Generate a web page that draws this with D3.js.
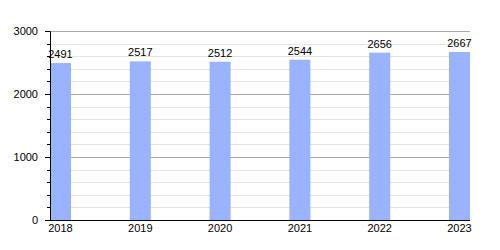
<!DOCTYPE html>
<html>
<head>
<meta charset="utf-8">
<script src="https://cdn.jsdelivr.net/npm/d3@7"></script>
<style>
  body { margin: 0; background: #fff; }
  text { font-family: "Liberation Sans", Arial, sans-serif; font-size: 11px; fill: #000; }
</style>
</head>
<body>
<div class="bar-chart"></div>
<script>
var years = ["2018", "2019", "2020", "2021", "2022", "2023"];
var values = [2491, 2517, 2512, 2544, 2656, 2667];
var yTicks = [0, 1000, 2000, 3000];

var W = 500, H = 250;
var margin = { top: 31, left: 50, right: 30, bottom: 30 };
var barWidth = 21;

var x = d3.scaleLinear()
      .domain([0, years.length - 1])
      .range([margin.left, W - margin.right - barWidth]);

var y = d3.scaleLinear()
      .domain([0, 3000])
      .range([H - margin.bottom, margin.top]);

var svg = d3.select(".bar-chart").append("svg")
      .attr("width", W)
      .attr("height", H);

// minor grid every 200
var minor = d3.range(200, 3000, 200).filter(function (v) { return v % 1000 !== 0; });
svg.selectAll(".minor")
    .data(minor)
    .enter().append("line")
    .attr("x1", margin.left).attr("x2", W - margin.right)
    .attr("y1", function (d) { return Math.round(y(d)) + 0.5; })
    .attr("y2", function (d) { return Math.round(y(d)) + 0.5; })
    .attr("stroke", "#e4e4e4");

svg.selectAll(".major")
    .data(yTicks.slice(1))
    .enter().append("line")
    .attr("x1", margin.left).attr("x2", W - margin.right)
    .attr("y1", function (d) { return Math.round(y(d)) + 0.5; })
    .attr("y2", function (d) { return Math.round(y(d)) + 0.5; })
    .attr("stroke", "#aaaaaa");

// bars
svg.selectAll(".bar")
    .data(values)
    .enter().append("rect")
    .attr("x", function (d, i) { return x(i); })
    .attr("y", function (d) { return y(d); })
    .attr("width", barWidth)
    .attr("height", function (d) { return y(0) - y(d); })
    .attr("fill", "#99b3ff");

svg.selectAll(".val")
    .data(values)
    .enter().append("text")
    .attr("x", function (d, i) { return x(i) + barWidth / 2; })
    .attr("y", function (d) { return y(d) - 5; })
    .attr("text-anchor", "middle")
    .text(function (d) { return d; });

// y axis
var yAxis = d3.axisLeft(y).tickValues(yTicks).tickSize(5).tickFormat(d3.format("d"));
var gy = svg.append("g")
    .attr("transform", "translate(" + margin.left + ",0)")
    .call(yAxis);
gy.select(".domain").attr("stroke", "#000");
gy.selectAll(".tick text").attr("x", -12).style("font-family", "Liberation Sans, Arial, sans-serif").style("font-size", "11px");

svg.selectAll(".ytick-minor")
    .data(minor)
    .enter().append("line")
    .attr("x1", margin.left - 3).attr("x2", margin.left)
    .attr("y1", function (d) { return Math.round(y(d)) + 0.5; })
    .attr("y2", function (d) { return Math.round(y(d)) + 0.5; })
    .attr("stroke", "#000");

// x axis line
svg.append("line")
    .attr("x1", margin.left).attr("x2", W - margin.right)
    .attr("y1", y(0) + 0.5).attr("y2", y(0) + 0.5)
    .attr("stroke", "#000");

svg.selectAll(".xlab")
    .data(years)
    .enter().append("text")
    .attr("x", function (d, i) { return x(i) + barWidth / 2; })
    .attr("y", y(0) + 12)
    .attr("text-anchor", "middle")
    .text(function (d) { return d; });
</script>
</body>
</html>
